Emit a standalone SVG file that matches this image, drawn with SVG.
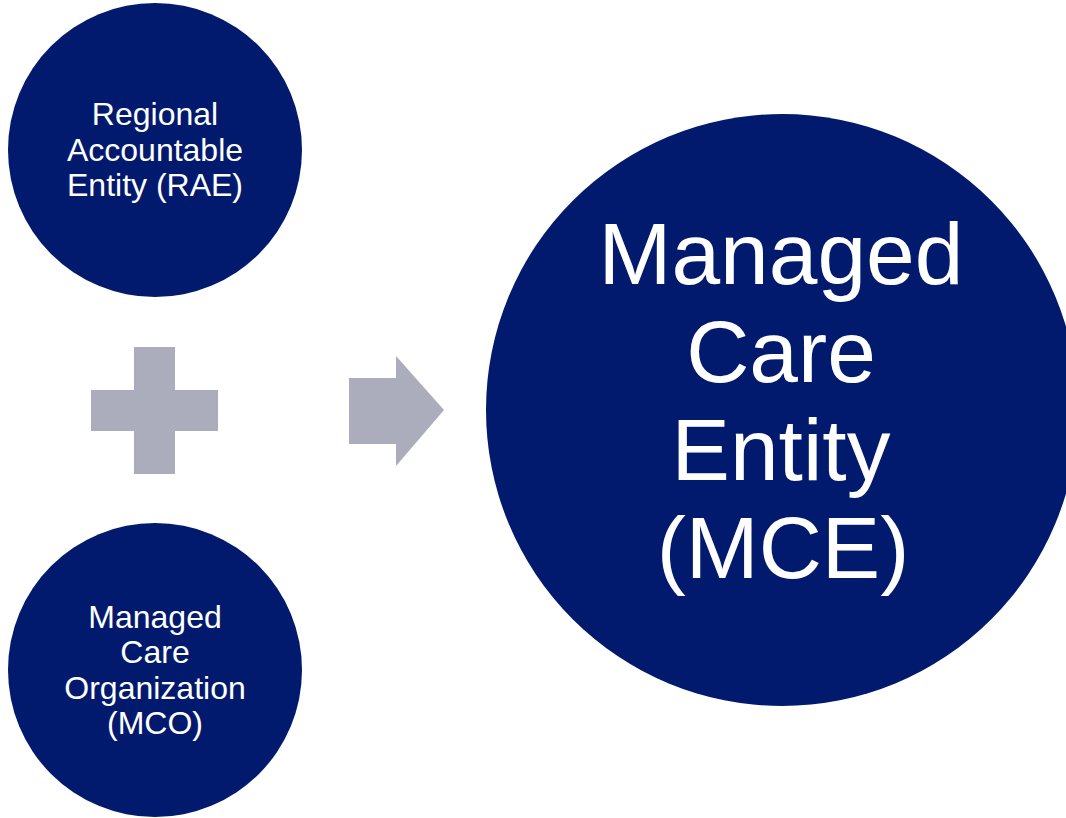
<svg xmlns="http://www.w3.org/2000/svg" width="1066" height="818" viewBox="0 0 1066 818">
  <style>
    .disc { fill: #021A6E; }
    .glyph { fill: #ABACBC; }
    .lbl { fill: #FFFFFF; font-family: "Liberation Sans", Arial, sans-serif; text-anchor: middle; }
    .small { font-size: 32px; }
    .big { font-size: 87.5px; }
  </style>
  <rect width="1066" height="818" fill="#FFFFFF"/>

  <!-- upper input: RAE -->
  <g id="node-rae">
    <circle class="disc" cx="155" cy="150" r="147"/>
    <text class="lbl small" x="155" y="125">Regional</text>
    <text class="lbl small" x="155" y="160.5">Accountable</text>
    <text class="lbl small" x="155" y="196">Entity (RAE)</text>
  </g>

  <!-- lower input: MCO -->
  <g id="node-mco">
    <circle class="disc" cx="155" cy="670" r="147"/>
    <text class="lbl small" x="155" y="627.5">Managed</text>
    <text class="lbl small" x="155" y="663">Care</text>
    <text class="lbl small" x="155" y="698.5">Organization</text>
    <text class="lbl small" x="155" y="734">(MCO)</text>
  </g>

  <!-- result: MCE, clipped by the right edge -->
  <g id="node-mce">
    <circle class="disc" cx="782" cy="410" r="296"/>
    <text class="lbl big" x="781" y="284">Managed</text>
    <text class="lbl big" x="781" y="382">Care</text>
    <text class="lbl big" x="781" y="480">Entity</text>
    <text class="lbl big" x="783" y="578">(MCE)</text>
  </g>

  <!-- plus sign and block arrow -->
  <g id="connectors">
    <path id="plus" class="glyph" d="M134 347 H175 V390 H218 V431 H175 V474 H134 V431 H91 V390 H134 Z"/>
    <path id="arrow" class="glyph" d="M349 378 H396 V356 L444 410 L396 466 V444 H349 Z"/>
  </g>
</svg>
